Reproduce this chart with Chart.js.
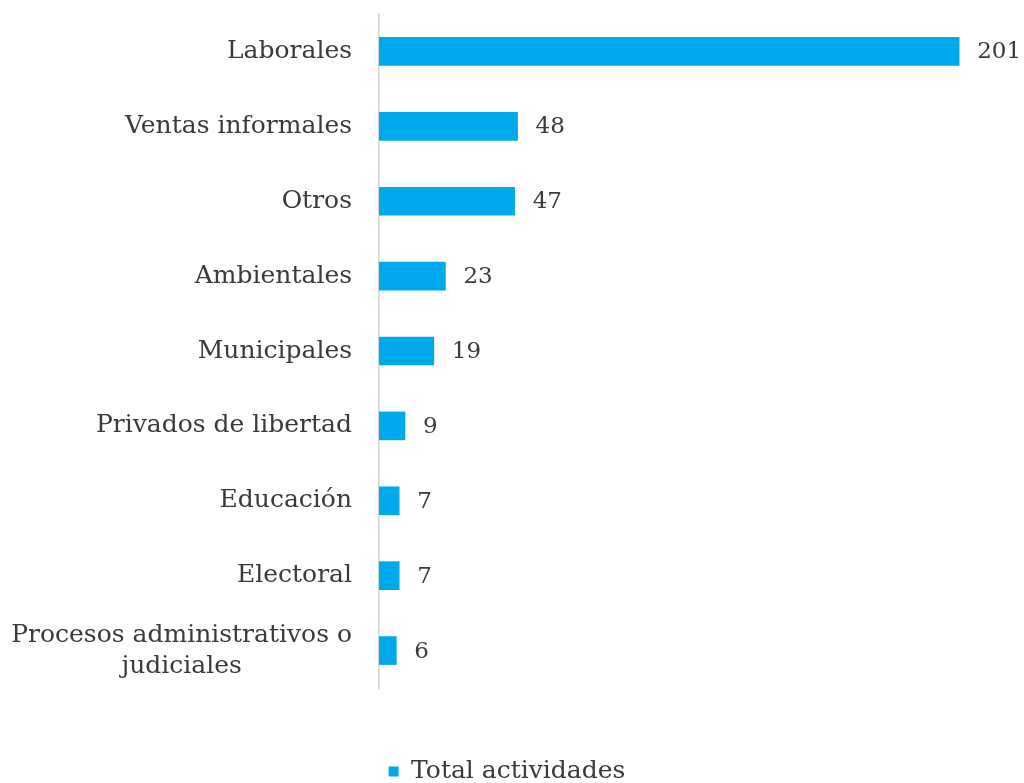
<!DOCTYPE html>
<html>
<head>
<meta charset="utf-8">
<script src="https://cdn.jsdelivr.net/npm/chart.js@4"></script>
<style>
  html, body { margin: 0; padding: 0; background: #fff; }
  #wrap { width: 1024px; height: 783px; }
</style>
</head>
<body>
<div id="wrap"><canvas id="myChart" width="1024" height="783"></canvas></div>
<script>
// datos del grafico
const categorias = ['Laborales', 'Ventas informales', 'Otros', 'Ambientales', 'Municipales',
  'Privados de libertad', 'Educación', 'Electoral', ['Procesos administrativos o', 'judiciales']];
const totales = [201, 48, 47, 23, 19, 9, 7, 7, 6];
const serie = 'Total actividades';

const fuente = '"DejaVu Serif", serif';
const colorTexto = '#3a3a3a';
const azul = '#00A9EC';

// etiquetas del eje y (centradas en bloque cuando tienen dos lineas) y valores al final de cada barra
const etiquetas = {
  id: 'etiquetas',
  afterDraw(chart) {
    const ctx = chart.ctx;
    const y = chart.scales.y;
    const x = chart.scales.x;
    ctx.save();
    ctx.font = '25px ' + fuente;
    ctx.fillStyle = colorTexto;
    ctx.textBaseline = 'middle';
    const derecha = y.right - 27;
    categorias.forEach((cat, i) => {
      const py = y.getPixelForTick(i);
      if (Array.isArray(cat)) {
        const ancho = Math.max(...cat.map(l => ctx.measureText(l).width));
        const centro = derecha - ancho / 2;
        ctx.textAlign = 'center';
        cat.forEach((linea, j) => {
          ctx.fillText(linea, centro, py + (j - (cat.length - 1) / 2) * 31);
        });
      } else {
        ctx.textAlign = 'right';
        ctx.fillText(cat, derecha, py);
      }
    });
    ctx.font = '23px ' + fuente;
    ctx.textAlign = 'left';
    totales.forEach((v, i) => {
      ctx.fillText(String(v), x.getPixelForValue(v) + 18, y.getPixelForTick(i) + 1);
    });
    ctx.restore();
  }
};

new Chart(document.getElementById('myChart'), {
  type: 'bar',
  data: {
    labels: categorias,
    datasets: [{
      label: serie,
      data: totales,
      backgroundColor: azul,
      barThickness: 28
    }]
  },
  options: {
    indexAxis: 'y',
    responsive: false,
    animation: false,
    layout: { padding: { top: 14, right: 10, left: 0, bottom: -11 } },
    scales: {
      x: {
        min: 0,
        max: 220,
        grid: { display: false },
        border: { display: false },
        ticks: { display: false },
        afterFit: (s) => { s.height = 71; }
      },
      y: {
        grid: { display: false },
        border: { display: true, color: '#d4d4d4', width: 1.5 },
        ticks: { display: false },
        afterFit: (s) => { s.width = 379; }
      }
    },
    plugins: {
      legend: {
        position: 'bottom',
        labels: {
          boxWidth: 10,
          boxHeight: 10,
          padding: 0,
          color: colorTexto,
          font: { family: fuente, size: 25, lineHeight: 1 }
        }
      },
      tooltip: { enabled: false }
    }
  },
  plugins: [etiquetas]
});
</script>
</body>
</html>
